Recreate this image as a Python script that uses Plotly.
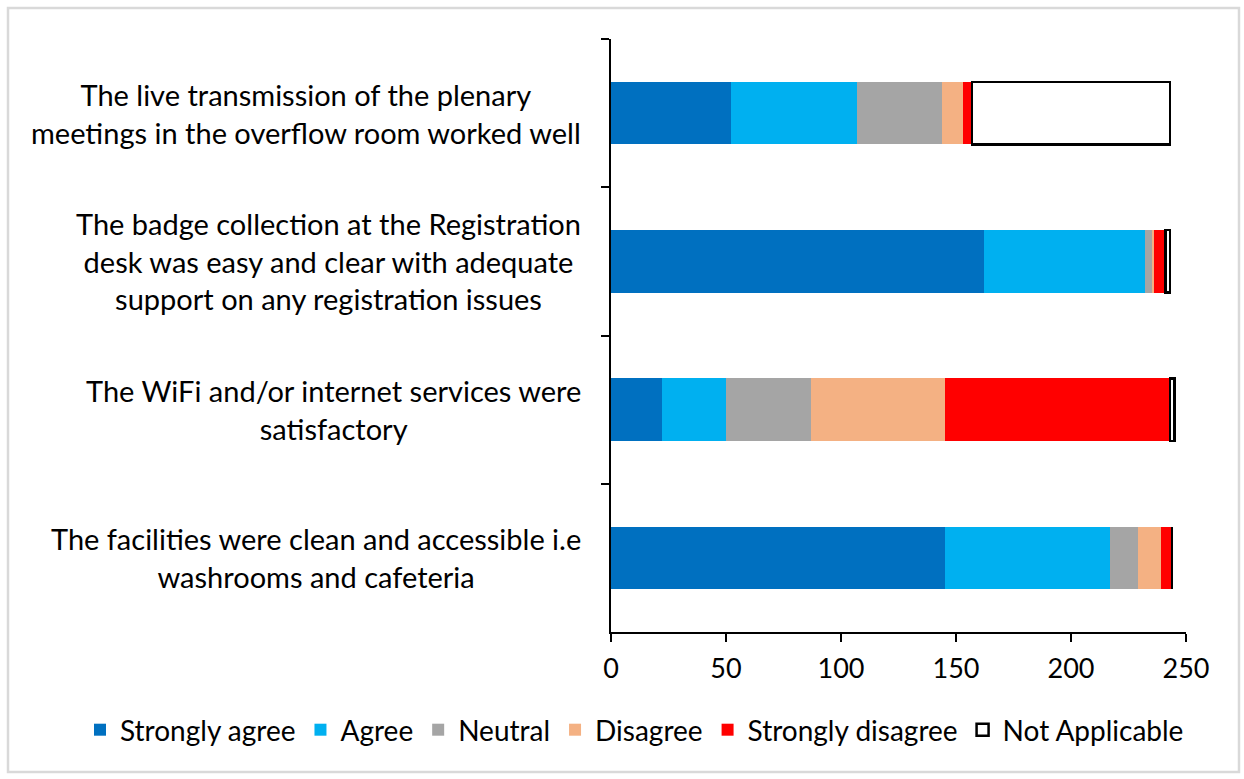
import plotly.graph_objects as go

categories = [
    "The live transmission of the plenary<br>meetings in the overflow room worked well",
    "The badge collection at the Registration<br>desk was easy and clear with adequate<br>support on any registration issues",
    "The WiFi and/or internet services were<br>satisfactory",
    "The facilities were clean and accessible i.e<br>washrooms and cafeteria",
]
series_names = ["Strongly agree", "Agree", "Neutral", "Disagree", "Strongly disagree", "Not Applicable"]
strongly_agree = [52, 162, 22, 145]
agree = [55, 70, 28, 72]
neutral = [37, 3, 37, 12]
disagree = [9, 1, 58, 10]
strongly_disagree = [4, 5, 98, 5]
not_applicable = [86, 2, 2, 0]
x_ticks = [0, 50, 100, 150, 200, 250]

values = [strongly_agree, agree, neutral, disagree, strongly_disagree, not_applicable]
colors = ["#0070C0", "#00B0F0", "#A5A5A5", "#F4B183", "#FF0000", "#FFFFFF"]

FONT = "Lato"
fig = go.Figure()
for name, vals, col in zip(series_names, values, colors):
    is_na = name == "Not Applicable"
    fig.add_trace(go.Bar(
        name=name, y=categories, x=vals, orientation="h",
        marker=dict(color=col,
                    line=dict(color="#000000" if is_na else col, width=2.5 if is_na else 0)),
    ))

W, H = 1244, 779
L, R, T, B = 611, 58, 39, 147
pw, ph = W - L - R, H - T - B

def px(x):
    return (x - L) / pw

def py(y):
    return (H - B - y) / ph

fig.update_layout(
    width=W, height=H, barmode="stack", bargap=0.58,
    margin=dict(l=L, r=R, t=T, b=B, autoexpand=False),
    paper_bgcolor="white", plot_bgcolor="white",
    font=dict(family=FONT, size=27, color="#000000"),
    legend=dict(orientation="h", xref="paper", yref="paper",
                x=px(80), y=py(730), xanchor="left", yanchor="middle",
                font=dict(size=28, family=FONT), itemwidth=30, tracegroupgap=0,
                traceorder="normal", bgcolor="rgba(0,0,0,0)"),
    xaxis=dict(range=[0, 250], tickvals=x_ticks, showgrid=False, zeroline=False,
               showline=True, linecolor="#000000", linewidth=2,
               ticks="outside", ticklen=8, tickwidth=2, tickcolor="#000000",
               ticklabelstandoff=4,
               tickfont=dict(size=27, family=FONT)),
    yaxis=dict(autorange="reversed", showgrid=False, showline=True,
               linecolor="#000000", linewidth=2, ticks="outside",
               tickson="boundaries", ticklen=8, tickwidth=2, tickcolor="#000000",
               showticklabels=False),
    showlegend=True,
)

for cat in categories:
    fig.add_annotation(x=0, xref="paper", y=cat, yref="y", text=cat,
                       showarrow=False, xanchor="right", align="center",
                       xshift=-28, font=dict(size=29, family=FONT))

fig.add_shape(type="rect", xref="paper", yref="paper",
              x0=px(8), x1=px(1239), y0=py(8), y1=py(772),
              line=dict(color="#D9D9D9", width=2.5), fillcolor="rgba(0,0,0,0)",
              layer="below")

fig.write_html("out.html", config={"displayModeBar": False},
               post_script="document.body.style.margin='0';document.body.style.overflow='hidden';")
